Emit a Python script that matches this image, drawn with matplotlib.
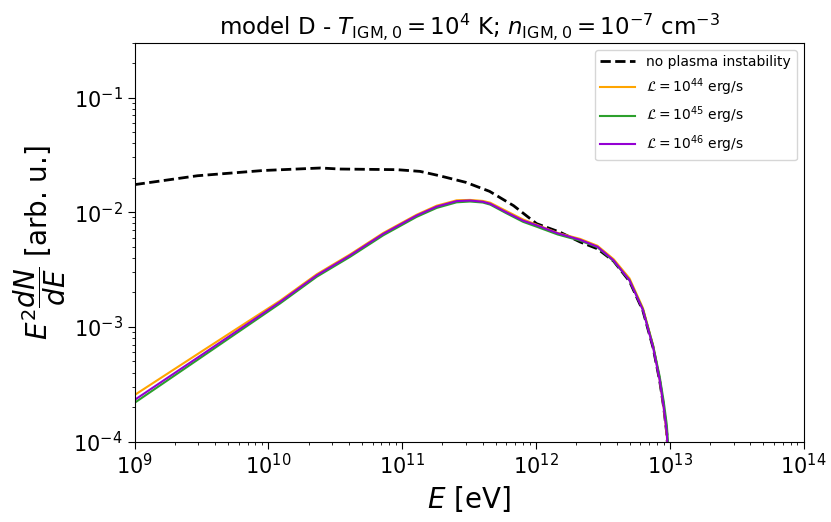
import numpy as np
import matplotlib
matplotlib.use("Agg")
import matplotlib.pyplot as plt

E_np = [1.0e9, 2.95e9, 9.1e9, 2.45e10, 3.43e10, 9.1e10, 1.36e11, 1.9e11, 3.0e11,
        4.5e11, 6.8e11, 1.01e12, 1.51e12, 2.14e12, 2.88e12, 3.8e12, 5.0e12, 6.3e12,
        7.5e12, 8.4e12, 9.0e12, 9.5e12, 9.9e12]
S_np = [1.74e-2, 2.08e-2, 2.31e-2, 2.43e-2, 2.38e-2, 2.35e-2, 2.27e-2, 2.08e-2, 1.82e-2,
        1.52e-2, 1.14e-2, 7.95e-3, 6.7e-3, 5.5e-3, 4.8e-3, 3.75e-3, 2.5e-3, 1.38e-3,
        6.6e-4, 3.4e-4, 2.0e-4, 1.17e-4, 5e-5]

E_L = [1.0e9, 3.16e9, 1.22e10, 2.3e10, 4.07e10, 7.23e10, 1.28e11, 1.81e11, 2.55e11, 3.21e11,
       4.0e11, 4.55e11, 6.0e11, 8.0e11, 1.02e12, 1.45e12, 2.14e12, 2.88e12, 3.8e12, 5.0e12,
       6.3e12, 7.5e12, 8.4e12, 9.0e12, 9.5e12, 9.9e12]
S_44 = [2.55e-4, 6.1e-4, 1.69e-3, 2.88e-3, 4.28e-3, 6.6e-3, 9.5e-3, 1.14e-2, 1.27e-2, 1.28e-2,
        1.255e-2, 1.21e-2, 1.025e-2, 8.65e-3, 7.75e-3, 6.6e-3, 5.85e-3, 5.1e-3, 3.9e-3, 2.65e-3,
        1.46e-3, 6.9e-4, 3.5e-4, 2.0e-4, 1.15e-4, 5e-5]
S_45 = [2.18e-4, 5.45e-4, 1.60e-3, 2.74e-3, 4.08e-3, 6.3e-3, 9.1e-3, 1.09e-2, 1.22e-2, 1.24e-2,
        1.215e-2, 1.165e-2, 9.8e-3, 8.25e-3, 7.45e-3, 6.4e-3, 5.65e-3, 4.95e-3, 3.75e-3, 2.55e-3,
        1.42e-3, 6.9e-4, 3.7e-4, 2.25e-4, 1.4e-4, 7e-5]
S_46 = [2.31e-4, 5.69e-4, 1.65e-3, 2.82e-3, 4.2e-3, 6.49e-3, 9.35e-3, 1.12e-2, 1.25e-2, 1.265e-2,
        1.235e-2, 1.185e-2, 1.0e-2, 8.45e-3, 7.67e-3, 6.56e-3, 5.75e-3, 5.0e-3, 3.8e-3, 2.55e-3,
        1.40e-3, 6.65e-4, 3.44e-4, 2.0e-4, 1.19e-4, 5e-5]

plt.rcParams["mathtext.fontset"] = "dejavusans"

fig = plt.figure(figsize=(8.31, 5.22), dpi=100)
ax = fig.add_axes([0.162, 0.154, 0.805, 0.764])

ax.plot(E_np, S_np, "k--", lw=2, label="no plasma instability")
ax.plot(E_L, S_44, color="orange", lw=1.5, label=r"$\mathcal{L} = 10^{44}$ erg/s")
ax.plot(E_L, S_45, color="tab:green", lw=1.5, label=r"$\mathcal{L} = 10^{45}$ erg/s")
ax.plot(E_L, S_46, color="darkviolet", lw=1.5, label=r"$\mathcal{L} = 10^{46}$ erg/s")

ax.set_xscale("log")
ax.set_yscale("log")
ax.set_xlim(1e9, 1e14)
ax.set_ylim(1e-4, 3e-1)
ax.tick_params(which="major", labelsize=15, length=5)
ax.set_xlabel(r"$E$ [eV]", fontsize=20)
ax.set_ylabel(r"$E^2\dfrac{dN}{dE}$ [arb. u.]", fontsize=20)
ax.set_title(r"model D - $T_{\rm IGM,0} = 10^4$ K; $n_{\rm IGM,0} = 10^{-7}$ cm$^{-3}$",
             fontsize=16.5)
ax.legend(loc="upper right", fontsize=10, handlelength=2.5)

fig.savefig("out.png", dpi=100)
